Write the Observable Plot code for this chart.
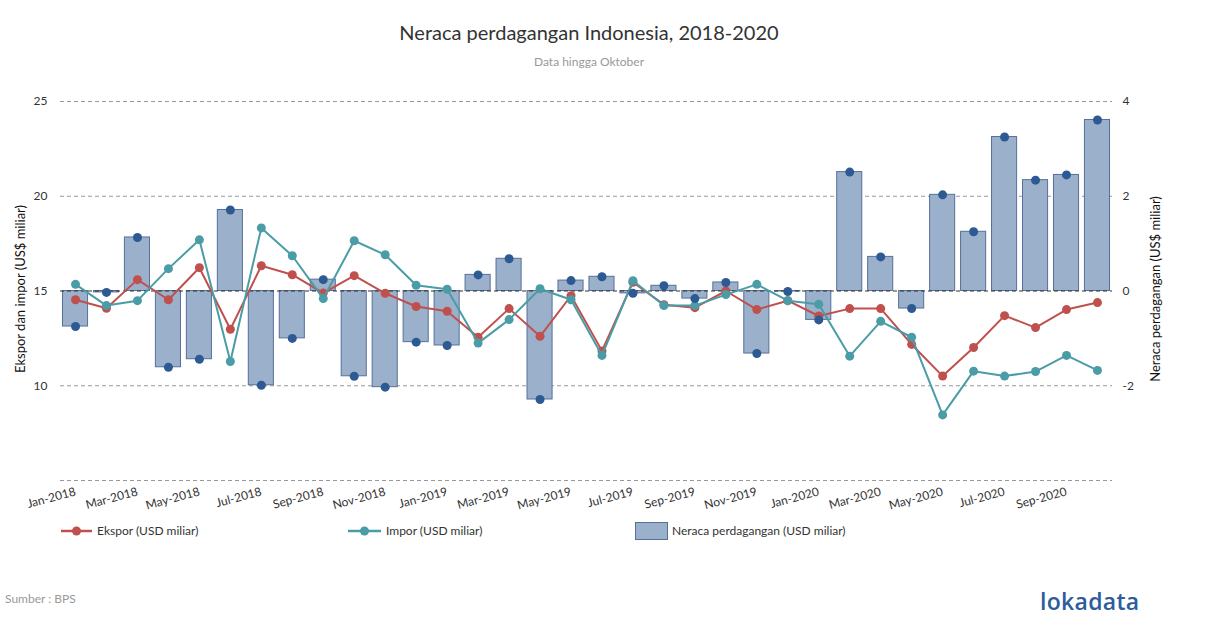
<!DOCTYPE html>
<html>
<head>
<meta charset="utf-8">
<script src="https://cdn.jsdelivr.net/npm/d3@7"></script>
<script src="https://cdn.jsdelivr.net/npm/@observablehq/plot@0.6"></script>
<style>
  html, body { margin: 0; padding: 0; background: #fff; }
  body { font-family: Lato, "Open Sans", sans-serif; }
  #wrap { position: relative; width: 1210px; height: 628px; overflow: hidden; }
  .abs { position: absolute; white-space: nowrap; }
  #title { left: 0; width: 1178px; top: 20px; text-align: center; font-size: 20px; color: #333; }
  #subtitle { left: 0; width: 1178px; top: 54px; text-align: center; font-size: 12px; color: #999; }
  #chart { position: absolute; left: 0; top: 80px; }
  .ylab { font-size: 13px; color: #111; transform-origin: center center; text-align: center; width: 300px; }
  #src { left: 5px; top: 591px; font-size: 12px; color: #999; }
  #logo { left: 1040px; top: 585px; font-size: 23px; color: #2c5c9e; letter-spacing: 0.3px; font-family: "Open Sans", Lato, sans-serif; font-weight: 600; }
</style>
</head>
<body>
<div id="wrap">
  <div id="title" class="abs">Neraca perdagangan Indonesia, 2018-2020</div>
  <div id="subtitle" class="abs">Data hingga Oktober</div>
  <div id="chart"></div>
  <div class="abs ylab" style="left:-130px; top:281px; transform: rotate(-90deg);">Ekspor dan impor (US$ miliar)</div>
  <div class="abs ylab" style="left:1005px; top:281px; transform: rotate(-90deg);">Neraca perdagangan (US$ miliar)</div>
  <div id="legend"></div>
  <div id="src" class="abs">Sumber : BPS</div>
  <div id="logo" class="abs">lokadata</div>
</div>
<script>
const months = [
  "Jan-2018","Feb-2018","Mar-2018","Apr-2018","May-2018","Jun-2018","Jul-2018","Aug-2018","Sep-2018","Oct-2018","Nov-2018","Dec-2018",
  "Jan-2019","Feb-2019","Mar-2019","Apr-2019","May-2019","Jun-2019","Jul-2019","Aug-2019","Sep-2019","Oct-2019","Nov-2019","Dec-2019",
  "Jan-2020","Feb-2020","Mar-2020","Apr-2020","May-2020","Jun-2020","Jul-2020","Aug-2020","Sep-2020","Oct-2020"
];
const ekspor = [
  14.54,14.09,15.60,14.54,16.23,12.98,16.33,15.86,14.89,15.81,14.88,14.18,
  13.93,12.56,14.07,12.61,14.75,11.84,15.46,14.28,14.12,15.00,14.02,14.49,
  13.68,14.07,14.07,12.18,10.51,12.02,13.70,13.07,14.02,14.39
];
const impor = [
  15.35,14.23,14.49,16.18,17.70,11.28,18.33,16.86,14.60,17.65,16.91,15.30,
  15.09,12.25,13.49,15.12,14.54,11.60,15.54,14.23,14.23,14.81,15.35,14.49,
  14.30,11.56,13.40,12.56,8.46,10.77,10.51,10.75,11.60,10.81
];
const neraca = [
  -0.75,-0.03,1.13,-1.61,-1.44,1.71,-1.99,-1.00,0.24,-1.80,-2.03,-1.08,
  -1.15,0.34,0.68,-2.29,0.22,0.30,-0.05,0.11,-0.16,0.18,-1.32,-0.01,
  -0.61,2.51,0.72,-0.37,2.03,1.25,3.25,2.34,2.45,3.61
];
const leftTicks = [10, 15, 20, 25];
const gridTicks = [5, 10, 20, 25];
const xTicks = months.filter((d, i) => i % 2 === 0);

const colEkspor = "#c0504d";
const colImpor = "#4a9ca6";
const colBarFill = "#9bb0ca";
const colBarStroke = "#56709a";
const colBalDot = "#2e5a94";

// right axis (-4..4) mapped onto left axis (5..25)
const toLeft = b => 15 + b * 2.5;
const toRight = v => (v - 15) / 2.5;

const data = months.map((m, i) => ({month: m, ekspor: ekspor[i], impor: impor[i], neraca: neraca[i]}));

const chart = Plot.plot({
  width: 1210,
  height: 440,
  marginLeft: 60,
  marginRight: 98,
  marginTop: 21,
  marginBottom: 40,
  style: {fontFamily: "Lato, 'Open Sans', sans-serif", fontSize: "12px", color: "#333", background: "transparent"},
  x: {type: "band", domain: months, paddingInner: 0.19, paddingOuter: 0.08, round: false},
  y: {domain: [5, 25]},
  marks: [
    Plot.gridY(gridTicks, {stroke: "#999", strokeOpacity: 1, strokeDasharray: "4,3"}),
    Plot.barY(data, {x: "month", y1: () => 15, y2: d => toLeft(d.neraca), fill: colBarFill, stroke: colBarStroke, strokeWidth: 1}),
    Plot.ruleY([15], {stroke: "#333", strokeDasharray: "4,3"}),
    Plot.line(data, {x: "month", y: "ekspor", stroke: colEkspor, strokeWidth: 2}),
    Plot.dot(data, {x: "month", y: "ekspor", fill: colEkspor, r: 4.5}),
    Plot.line(data, {x: "month", y: "impor", stroke: colImpor, strokeWidth: 2}),
    Plot.dot(data, {x: "month", y: "impor", fill: colImpor, r: 4.5}),
    Plot.dot(data, {x: "month", y: d => toLeft(d.neraca), fill: colBalDot, r: 4.5}),
    Plot.axisY(leftTicks, {anchor: "left", tickSize: 0, tickPadding: 13, label: null, fontSize: 12}),
    Plot.axisY(leftTicks.concat([]), {anchor: "right", tickSize: 0, tickPadding: 10, label: null, fontSize: 12, textAnchor: "start",
      tickFormat: v => String(toRight(v))}),
    Plot.axisX(xTicks, {anchor: "bottom", tickSize: 0, tickPadding: 11, tickRotate: -15, textAnchor: "end", label: null, fontSize: 12})
  ]
});
document.getElementById("chart").appendChild(chart);

// legend
const legend = document.getElementById("legend");
const legItems = [
  {kind: "line", color: colEkspor, x0: 61, x1: 92, label: "Ekspor (USD miliar)", tx: 97},
  {kind: "line", color: colImpor, x0: 348, x1: 381, label: "Impor (USD miliar)", tx: 386},
  {kind: "rect", color: colBarFill, stroke: colBarStroke, x0: 635, x1: 667, label: "Neraca perdagangan (USD miliar)", tx: 672}
];
const ns = "http://www.w3.org/2000/svg";
const lsvg = document.createElementNS(ns, "svg");
lsvg.setAttribute("width", 1210); lsvg.setAttribute("height", 40);
lsvg.style.position = "absolute"; lsvg.style.left = "0px"; lsvg.style.top = "511px";
legItems.forEach(it => {
  if (it.kind === "line") {
    const l = document.createElementNS(ns, "line");
    l.setAttribute("x1", it.x0); l.setAttribute("x2", it.x1); l.setAttribute("y1", 20); l.setAttribute("y2", 20);
    l.setAttribute("stroke", it.color); l.setAttribute("stroke-width", 2.5);
    lsvg.appendChild(l);
    const c = document.createElementNS(ns, "circle");
    c.setAttribute("cx", (it.x0 + it.x1) / 2); c.setAttribute("cy", 20); c.setAttribute("r", 4.5); c.setAttribute("fill", it.color);
    lsvg.appendChild(c);
  } else {
    const r = document.createElementNS(ns, "rect");
    r.setAttribute("x", it.x0 + 0.5); r.setAttribute("y", 11.5); r.setAttribute("width", it.x1 - it.x0); r.setAttribute("height", 17);
    r.setAttribute("fill", it.color); r.setAttribute("stroke", it.stroke);
    lsvg.appendChild(r);
  }
  const t = document.createElementNS(ns, "text");
  t.setAttribute("x", it.tx); t.setAttribute("y", 20); t.setAttribute("dy", "0.35em");
  t.setAttribute("font-size", 12); t.setAttribute("fill", "#333");
  t.setAttribute("font-family", "Lato, 'Open Sans', sans-serif");
  t.textContent = it.label;
  lsvg.appendChild(t);
});
legend.appendChild(lsvg);
</script>
</body>
</html>
